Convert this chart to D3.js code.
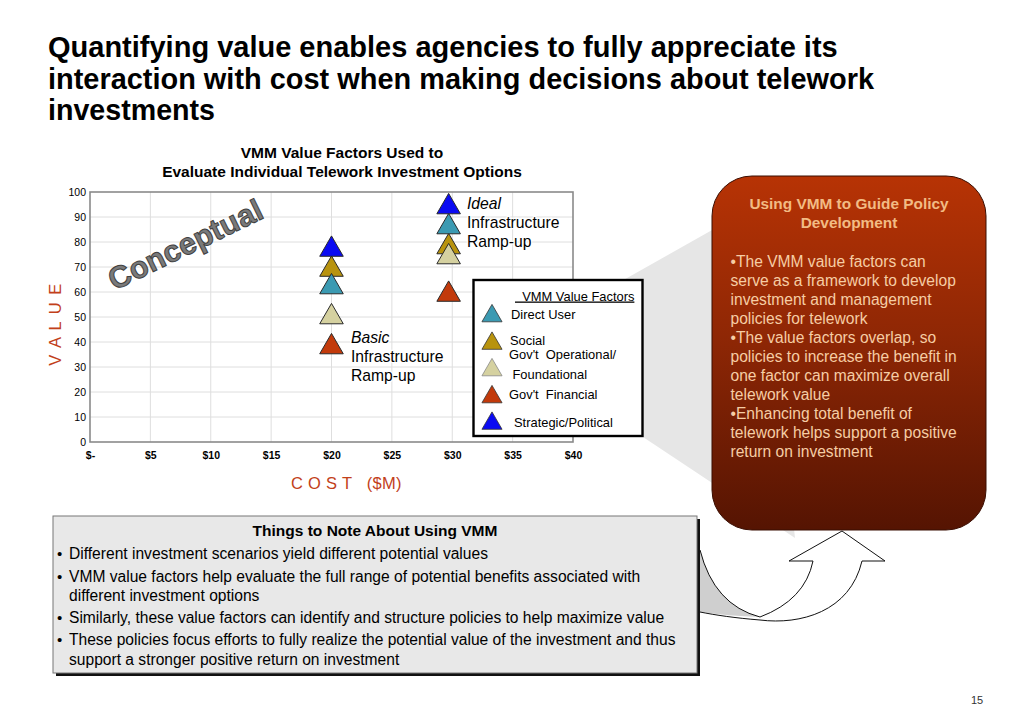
<!DOCTYPE html>
<html>
<head>
<meta charset="utf-8">
<script src="https://cdn.jsdelivr.net/npm/d3@7"></script>
<style>
  html, body { margin: 0; padding: 0; background: #fff; }
  svg { display: block; font-family: "Liberation Sans", Arial, sans-serif; }
  text { white-space: pre; }
</style>
</head>
<body>
<svg id="chart" width="1024" height="709"></svg>
<script>
// ---------------- DATA ----------------
const titleLines = [
  "Quantifying value enables agencies to fully appreciate its",
  "interaction with cost when making decisions about telework",
  "investments"
];
const chartTitle = ["VMM Value Factors Used to", "Evaluate Individual Telework Investment Options"];
const factorNames = ["Direct User", "Social", "Gov't  Operational/", "Gov't  Financial", "Strategic/Political"];
const factorSubLabel = ["", "", "Foundational", "", ""];
const factorColors = ["#3b9ab2", "#b8930e", "#d5d1a0", "#c23a0b", "#0b0bf2"];
const drawOrder = [1, 0, 2, 3, 4];
const scenarioNames = ["Basic", "Ideal"];
const scenarioCost = [20, 29.7];
const basicValues = [62, 69, 50, 38, 77];
const idealValues = [86, 78, 74, 59, 94];
const scenarioValues = [basicValues, idealValues];
const xTicks = [0, 5, 10, 15, 20, 25, 30, 35, 40];
const yTicks = [0, 10, 20, 30, 40, 50, 60, 70, 80, 90, 100];
const boxTitle = ["Using VMM to Guide Policy", "Development"];
const boxLines = [
  "\u2022The VMM value factors can",
  "serve as a framework to develop",
  "investment and management",
  "policies for telework",
  "\u2022The value factors overlap, so",
  "policies to increase the benefit in",
  "one factor can maximize overall",
  "telework value",
  "\u2022Enhancing total benefit of",
  "telework helps support a positive",
  "return on investment"
];
const noteTitle = "Things to Note About Using VMM";
const noteBullets = [
  ["Different investment scenarios yield different potential values"],
  ["VMM value factors help evaluate the full range of potential benefits associated with", "different investment options"],
  ["Similarly, these value factors can identify and structure policies to help maximize value"],
  ["These policies focus efforts to fully realize the potential value of the investment and thus", "support a stronger positive return on investment"]
];

// ---------------- DRAW ----------------
const svg = d3.select("#chart");

function fit(sel, maxW) {
  sel.each(function () {
    const w = this.getComputedTextLength();
    if (w > maxW) {
      d3.select(this).attr("textLength", maxW).attr("lengthAdjust", "spacingAndGlyphs");
    }
  });
}

// Main title
const titleWidths = [790, 826, 167];
titleLines.forEach((t, i) => {
  svg.append("text").attr("x", 48).attr("y", 57 + i * 31.5)
    .attr("font-size", 29).attr("font-weight", "bold").attr("fill", "#000")
    .text(t).call(fit, titleWidths[i]);
});

// gray callout polygon behind
svg.append("polygon")
  .attr("points", "620,282 760,203 795,538 643,437")
  .attr("fill", "#e6e6e6");

// Chart title
chartTitle.forEach((t, i) => {
  svg.append("text").attr("x", 342).attr("y", 158 + i * 19)
    .attr("text-anchor", "middle").attr("font-size", 15.5).attr("font-weight", "bold")
    .text(t).call(fit, 364);
});

const x = d3.scaleLinear().domain([0, 40]).range([90, 573]);
const y = d3.scaleLinear().domain([0, 100]).range([442, 192]);

// plot background
svg.append("rect").attr("x", x(0)).attr("y", y(100))
  .attr("width", x(40) - x(0)).attr("height", y(0) - y(100)).attr("fill", "#fff");

// grid
const grid = svg.append("g");
grid.selectAll(".vg").data(xTicks.slice(1, -1)).join("line")
  .attr("x1", d => x(d)).attr("x2", d => x(d)).attr("y1", y(0)).attr("y2", y(100))
  .attr("stroke", "#dedede").attr("stroke-width", 1);
grid.selectAll(".hg").data(yTicks.slice(1, -1)).join("line")
  .attr("x1", x(0)).attr("x2", x(40)).attr("y1", d => y(d)).attr("y2", d => y(d))
  .attr("stroke", "#dedede").attr("stroke-width", 1);

// frame
svg.append("rect").attr("x", x(0)).attr("y", y(100))
  .attr("width", x(40) - x(0)).attr("height", y(0) - y(100))
  .attr("fill", "none").attr("stroke", "#8a8a8a").attr("stroke-width", 1.6);

// axes
const yAxis = svg.append("g").attr("transform", `translate(${x(0)},0)`)
  .call(d3.axisLeft(y).tickValues(yTicks).tickSize(0).tickPadding(4).tickFormat(d3.format("d")));
yAxis.select(".domain").remove();
yAxis.selectAll("text").attr("font-size", 10.5).attr("fill", "#000")
  .attr("font-family", "Liberation Sans, Arial, sans-serif");

const xAxis = svg.append("g").attr("transform", `translate(0,${y(0)})`)
  .call(d3.axisBottom(x).tickValues(xTicks).tickSize(0).tickPadding(10)
    .tickFormat(d => d === 0 ? "$-" : "$" + d));
xAxis.select(".domain").remove();
xAxis.selectAll("text").attr("font-size", 10.5).attr("font-weight", "bold").attr("fill", "#000")
  .attr("font-family", "Liberation Sans, Arial, sans-serif");

// Conceptual watermark
svg.append("text").attr("x", 190).attr("y", 254)
  .attr("transform", "rotate(-26,190,254)")
  .attr("text-anchor", "middle").attr("font-size", 30.5).attr("font-weight", "bold")
  .attr("fill", "#7a7a7a").attr("stroke", "#3f3f3f").attr("stroke-width", 1)
  .attr("letter-spacing", 0.2)
  .text("Conceptual");

// Axis titles
svg.append("text").attr("transform", "translate(61,324) rotate(-90)")
  .attr("text-anchor", "middle").attr("font-size", 16.5).attr("fill", "#c2401a")
  .attr("letter-spacing", 1.5).text("V A L U E");
svg.append("text").attr("x", 291).attr("y", 489)
  .attr("font-size", 16.5).attr("fill", "#c2401a").attr("letter-spacing", 0.3).text("C O S T   ($M)");

// Scatter triangles
const tri = d3.symbol().type(d3.symbolTriangle).size(240);
const pts = [];
scenarioValues.forEach((vals, s) => {
  drawOrder.forEach(f => pts.push({ cost: scenarioCost[s], value: vals[f], f }));
});
svg.append("g").selectAll("path").data(pts).join("path")
  .attr("d", tri)
  .attr("transform", d => `translate(${x(d.cost)},${y(d.value)})`)
  .attr("fill", d => factorColors[d.f]).attr("stroke", "#2a2a2a").attr("stroke-width", 1);

// Scenario annotations
const annot = [
  { s: 0, x: 351, y: 343 },
  { s: 1, x: 467, y: 209 }
];
annot.forEach(a => {
  const lines = [scenarioNames[a.s], "Infrastructure", "Ramp-up"];
  lines.forEach((t, i) => {
    svg.append("text").attr("x", a.x).attr("y", a.y + i * 19)
      .attr("font-size", 15.7).attr("font-style", i === 0 ? "italic" : "normal")
      .attr("fill", "#000").attr("stroke", "#fff").attr("stroke-width", 2.5)
      .attr("paint-order", "stroke").text(t);
  });
});

// Legend
const lg = svg.append("g");
lg.append("rect").attr("x", 473.5).attr("y", 280).attr("width", 169).attr("height", 156)
  .attr("fill", "#fff").attr("stroke", "#000").attr("stroke-width", 2.4);
lg.append("text").attr("x", 515).attr("y", 300.5).attr("font-size", 12.9)
  .attr("text-decoration", "underline").text("  VMM Value Factors");
const legTri = d3.symbol().type(d3.symbolTriangle).size(175);
const legTriY = [316, 343.5, 370, 397, 423.5];
const legTextY = [318.5, 345, 359, 399, 427];
const legTextX = [511, 510, 509, 509, 514];
factorNames.forEach((n, i) => {
  lg.append("path").attr("d", legTri).attr("transform", `translate(492,${legTriY[i]})`)
    .attr("fill", factorColors[i]).attr("stroke", i === 2 ? "#888" : "#333").attr("stroke-width", 0.8);
  lg.append("text").attr("x", legTextX[i]).attr("y", legTextY[i]).attr("font-size", 12.9).text(n);
  if (factorSubLabel[i]) {
    lg.append("text").attr("x", 512.5).attr("y", 379).attr("font-size", 12.9).text(factorSubLabel[i]);
  }
});

// Right box
const defs = svg.append("defs");
const grad = defs.append("linearGradient").attr("id", "boxGrad")
  .attr("x1", 0).attr("y1", 0).attr("x2", 0).attr("y2", 1);
grad.append("stop").attr("offset", "0%").attr("stop-color", "#b73305");
grad.append("stop").attr("offset", "45%").attr("stop-color", "#8f2705");
grad.append("stop").attr("offset", "100%").attr("stop-color", "#551402");
svg.append("rect").attr("x", 712).attr("y", 176).attr("width", 274).attr("height", 354)
  .attr("rx", 40).attr("ry", 40).attr("fill", "url(#boxGrad)")
  .attr("stroke", "#3a0e02").attr("stroke-width", 1);
boxTitle.forEach((t, i) => {
  svg.append("text").attr("x", 849).attr("y", 209 + i * 19).attr("text-anchor", "middle")
    .attr("font-size", 15.4).attr("font-weight", "bold").attr("fill", "#f2bb84").text(t);
});
boxLines.forEach((t, i) => {
  svg.append("text").attr("x", 730.5).attr("y", 266.5 + i * 19).attr("font-size", 15.6)
    .attr("fill", "#f6cda4").text(t).call(fit, 240);
});

// Bottom note box
svg.append("rect").attr("x", 56).attr("y", 519).attr("width", 644).attr("height", 157).attr("fill", "#111");
svg.append("rect").attr("x", 53).attr("y", 516).attr("width", 644).attr("height", 157)
  .attr("fill", "#e8e8e8").attr("stroke", "#777").attr("stroke-width", 1);
svg.append("text").attr("x", 375).attr("y", 536).attr("text-anchor", "middle")
  .attr("font-size", 15.5).attr("font-weight", "bold").text(noteTitle);
const noteY = [[558.5], [582, 601], [623], [645, 665]];
noteBullets.forEach((lines, i) => {
  svg.append("text").attr("x", 57).attr("y", noteY[i][0]).attr("font-size", 15).text("\u2022");
  lines.forEach((t, j) => {
    svg.append("text").attr("x", 69).attr("y", noteY[i][j]).attr("font-size", 15.6)
      .text(t).call(fit, 612);
  });
});

// Curved arrow
const ar = svg.append("g").attr("fill", "none").attr("stroke", "#111").attr("stroke-width", 1);
ar.append("path").attr("d", "M700,550 Q714,605 760,617 Q728,616 700,612 Z")
  .attr("fill", "#cfcfcf").attr("stroke", "none");
ar.append("path").attr("d", "M862,561 C850,612 800,625 760,620 C735,618 715,615 700,612");
ar.append("path").attr("d", "M700,550 Q714,605 760,617");
ar.append("path").attr("d", "M760,617 Q805,600 813,561 L789,561 L842,531 L885,561 L862,561");

// page number
svg.append("text").attr("x", 977).attr("y", 704).attr("text-anchor", "middle")
  .attr("font-size", 11).attr("fill", "#333").text("15");
</script>
</body>
</html>
